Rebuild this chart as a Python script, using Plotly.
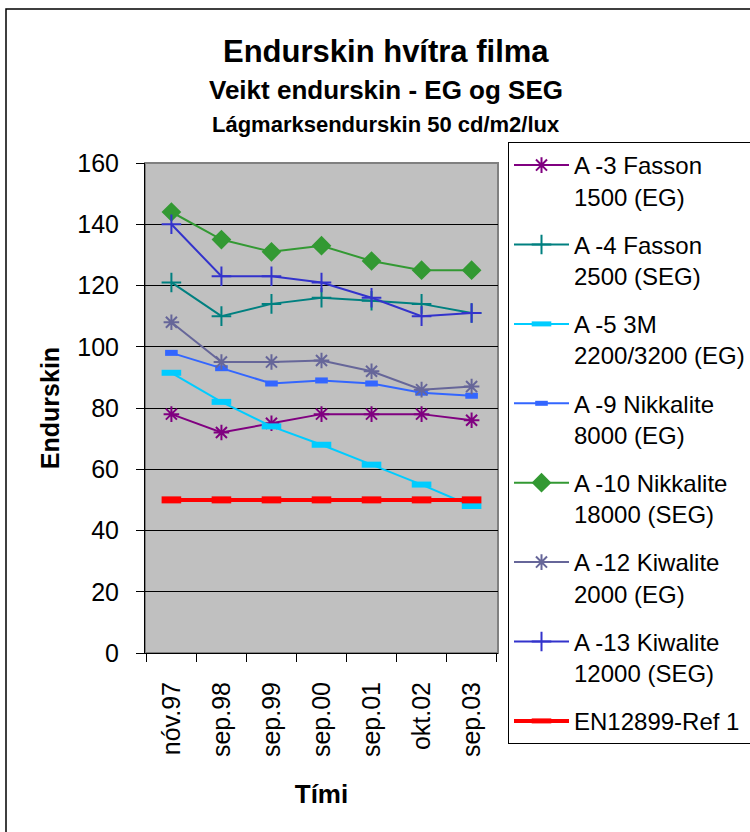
import plotly.graph_objects as go

# --- data -------------------------------------------------------------------
periods = ["nóv.97", "sep.98", "sep.99", "sep.00", "sep.01", "okt.02", "sep.03"]

a3_fasson_1500 = [78, 72, 75, 78, 78, 78, 76]
a4_fasson_2500 = [121, 110, 114, 116, 115, 114, 111]
a5_3m_2200 = [91.5, 82, 74, 68, 61.5, 55, 48]
a9_nikkalite_8000 = [98, 93, 88, 89, 88, 85, 84]
a10_nikkalite_18000 = [144, 135, 131, 133, 128, 125, 125]
a12_kiwalite_2000 = [108, 95, 95, 95.5, 92, 86, 87]
a13_kiwalite_12000 = [140, 123, 123, 121, 116, 110, 111]
en12899_ref1 = [50, 50, 50, 50, 50, 50, 50]

series = [
    ("A -3 Fasson<br>1500 (EG)", a3_fasson_1500, "#800080", "asterisk-open", 13, 2),
    ("A -4 Fasson<br>2500 (SEG)", a4_fasson_2500, "#008080", "cross-thin-open", 14, 2),
    ("A -5 3M<br>2200/3200 (EG)", a5_3m_2200, "#00CCFF", "line-ew-open", 14, 2),
    ("A -9 Nikkalite<br>8000 (EG)", a9_nikkalite_8000, "#3366FF", "line-ew-open", 9, 2),
    ("A -10 Nikkalite<br>18000 (SEG)", a10_nikkalite_18000, "#339933", "diamond", 13, 2),
    ("A -12 Kiwalite<br>2000 (EG)", a12_kiwalite_2000, "#666699", "asterisk-open", 13, 2),
    ("A -13 Kiwalite<br>12000 (SEG)", a13_kiwalite_12000, "#3333CC", "cross-thin-open", 14, 2),
    ("EN12899-Ref 1", en12899_ref1, "#FF0000", "line-ew-open", 14, 4),
]

FONT = "Liberation Sans, Arial, sans-serif"
W, H = 750, 832
L, R, T, B = 145, 252, 163, 179
PW, PH = W - L - R, H - T - B


def px(x):
    return (x - L) / PW


def py(y):
    return (H - B - y) / PH


fig = go.Figure()
for i, (name, vals, color, sym, size, lw) in enumerate(series):
    mk = dict(symbol=sym, size=size, color=color, line=dict(color=color, width=2))
    if sym == "line-ew-open":
        mk["line"]["width"] = 6 if lw == 2 else 7
    fig.add_trace(go.Scatter(
        x=periods, y=vals, mode="lines+markers", name=name,
        legendgroup=f"g{i}",
        line=dict(color=color, width=lw), marker=mk))

fig.update_layout(
    width=W, height=H,
    margin=dict(l=L, r=R, t=T, b=B, autoexpand=False),
    paper_bgcolor="white", plot_bgcolor="#C0C0C0",
    font=dict(family=FONT, color="black", size=24),
    legend=dict(x=px(508), y=1 - 142 / H, yref="container",
                xanchor="left", yanchor="top", valign="top",
                bordercolor="black", borderwidth=1, bgcolor="white",
                font=dict(size=24), tracegroupgap=14, traceorder="grouped",
                itemwidth=55, maxheight=700),
    showlegend=True,
)

fig.update_xaxes(type="category", showgrid=False, ticks="outside", tickson="boundaries",
                 ticklen=8, tickcolor="black", showline=True, linecolor="black",
                 tickangle=-90, tickfont=dict(size=25), ticklabelstandoff=18,
                 title=dict(text="<b>Tími</b>", font=dict(size=26), standoff=28))
fig.update_yaxes(range=[0, 160], dtick=20, showgrid=True, gridcolor="black", gridwidth=1,
                 ticks="outside", ticklen=8, tickcolor="black", showline=True,
                 linecolor="black", zeroline=False, tickfont=dict(size=25),
                 ticklabelstandoff=12,
                 title=dict(text="<b>Endurskin</b>", font=dict(size=25), standoff=10))

# grey frame around plot area (top/right), outer chart border
fig.add_shape(type="rect", xref="paper", yref="paper", x0=0, x1=1, y0=0, y1=1,
              line=dict(color="#808080", width=2), layer="below")
fig.add_shape(type="rect", xref="paper", yref="paper",
              x0=px(6), x1=px(770), y0=py(850), y1=py(9),
              line=dict(color="black", width=1.5))

titles = [
    ("Endurskin hvítra filma", 31, 52),
    ("Veikt endurskin - EG og SEG", 26, 90),
    ("Lágmarksendurskin 50 cd/m2/lux", 22, 125),
]
for text, size, y in titles:
    fig.add_annotation(text=f"<b>{text}</b>", xref="paper", yref="paper",
                       x=px(386), y=py(y), xanchor="center", yanchor="middle",
                       showarrow=False, font=dict(size=size, family=FONT))

fig.write_html("out.html", config={"displayModeBar": False},
               post_script="document.body.style.margin = '0';")
